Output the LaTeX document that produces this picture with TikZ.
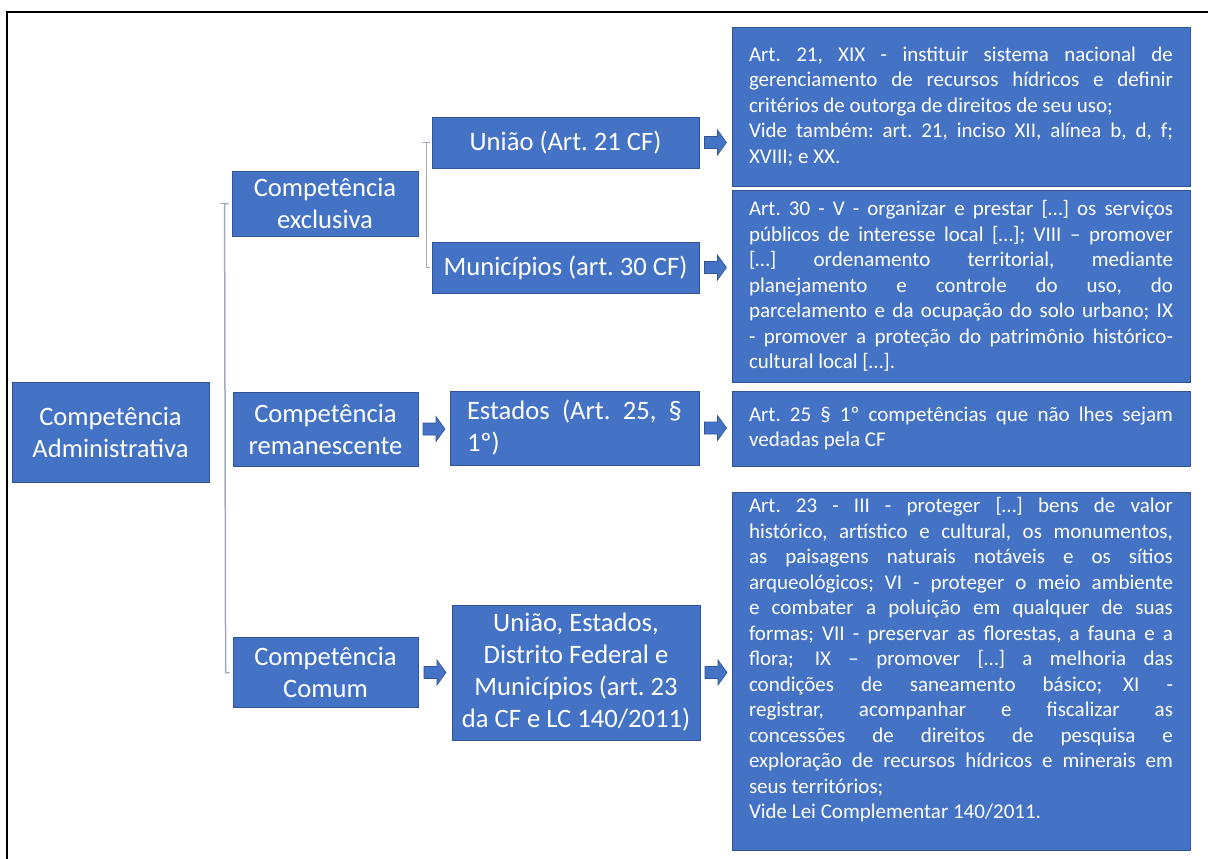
\documentclass[tikz,border=0pt]{standalone}
\usepackage{fontspec}
\setmainfont{Carlito}
\usetikzlibrary{calc}
\frenchspacing

\definecolor{boxblue}{HTML}{4472C4}
\definecolor{boxedge}{HTML}{2F5597}
\definecolor{brackgray}{HTML}{A3AAB8}

% width of the text column inside the right-hand note boxes
\newlength\notew
\setlength\notew{424pt}
% one justified line / one closing (left-aligned) line of a paragraph
\newcommand\jline[1]{\makebox[\linewidth][s]{#1}\par}
\newcommand\eline[1]{\makebox[\linewidth][l]{#1}\par}
\newcommand\notetext[2][\notew]{\begin{minipage}{#1}\setlength\parindent{0pt}#2\end{minipage}}

\tikzset{
  box/.style={draw=boxedge, line width=0.8pt, fill=boxblue, text=white, inner sep=0pt},
  bigbox/.style={box, align=center, font=\fontsize{26.6}{32}\selectfont},
  notebox/.style={box, minimum width=458pt, font=\fontsize{21}{25.5}\selectfont},
  bracket/.style={draw=brackgray, line width=1.5pt},
  blockarr/.style={fill=boxblue, draw=boxedge, line width=0.6pt},
  frameline/.style={draw=black, line width=2pt}
}

% fat right arrow centred in the gap between two boxes, at the height of the first
\newcommand\blockarrow[2]{%
  \path[blockarr] let \p1=(#1.east), \p2=(#2.west), \p3=($(\p1)!0.5!(\x2,\y1)$) in
    (\x3-11pt,\y3-6pt) -- (\x3+2pt,\y3-6pt) -- (\x3+2pt,\y3-12.5pt) --
    (\x3+11pt,\y3) --
    (\x3+2pt,\y3+12.5pt) -- (\x3+2pt,\y3+6pt) -- (\x3-11pt,\y3+6pt) -- cycle;}

\begin{document}
\begin{tikzpicture}[x=1pt, y=-1pt]
\useasboundingbox (0,0) rectangle (1208,859);

% frame
\draw[frameline] (1208,12) -- (7,12) -- (7,859);

% root
\node[bigbox, minimum width=197pt, minimum height=100pt] (adm) at (110.5,432)
  {Competência\\Administrativa};

% kinds of competence
\node[bigbox, minimum width=186pt, minimum height=65pt] (excl) at (325,203.5)
  {Competência\\exclusiva};
\node[bigbox, minimum width=185pt, minimum height=74pt] (rem) at (325.5,429)
  {Competência\\remanescente};
\node[bigbox, minimum width=185pt, minimum height=70pt] (com) at (325.5,672.5)
  {Competência\\Comum};

% holders
\node[bigbox, minimum width=267pt, minimum height=51pt] (uniao) at (565.5,142.5)
  {União (Art. 21 CF)};
\node[bigbox, minimum width=267pt, minimum height=51pt] (mun) at (565.5,267.5)
  {Municípios (art. 30 CF)};
\node[bigbox, minimum width=249pt, minimum height=74pt] (est) at (574.5,428)
  {\notetext[215pt]{\jline{Estados (Art. 25, §}\eline{1º)}}};
\node[bigbox, minimum width=248pt, minimum height=135pt] (todos) at (576,672.5)
  {União, Estados,\\Distrito Federal e\\Municípios (art. 23\\da CF e LC 140/2011)};

% notes
\node[notebox, minimum height=159pt] (n21) at (961,106.5) {\notetext{%
  \jline{Art. 21, XIX - instituir sistema nacional de}
  \jline{gerenciamento de recursos hídricos e definir}
  \eline{critérios de outorga de direitos de seu uso;}
  \jline{Vide também: art. 21, inciso XII, alínea b, d, f;}
  \eline{XVIII; e XX.}}};
\node[notebox, minimum height=192pt] (n30) at (961,286) {\notetext{%
  \jline{Art. 30 - V - organizar e prestar […] os serviços}
  \jline{públicos de interesse local […]; VIII – promover}
  \jline{[…] ordenamento territorial, mediante}
  \jline{planejamento e controle do uso, do}
  \jline{parcelamento e da ocupação do solo urbano; IX}
  \jline{- promover a proteção do patrimônio histórico-}
  \eline{cultural local […].}}};
\node[notebox, minimum height=75pt] (n25) at (961,428.5) {\notetext{%
  \jline{Art. 25 § 1º competências que não lhes sejam}
  \eline{vedadas pela CF}}};
\node[notebox, minimum height=358pt] (n23) at (961,671) {\notetext{%
  \jline{Art. 23 - III - proteger […] bens de valor}
  \jline{histórico, artístico e cultural, os monumentos,}
  \jline{as paisagens naturais notáveis e os sítios}
  \jline{arqueológicos; VI - proteger o meio ambiente}
  \jline{e combater a poluição em qualquer de suas}
  \jline{formas; VII - preservar as florestas, a fauna e a}
  \jline{flora;\quad IX – promover […] a melhoria das}
  \jline{condições de saneamento básico;\quad XI -}
  \jline{registrar, acompanhar e fiscalizar as}
  \jline{concessões de direitos de pesquisa e}
  \jline{exploração de recursos hídricos e minerais em}
  \eline{seus territórios;}
  \eline{Vide Lei Complementar 140/2011.}
  \eline{}}};

% brackets
\draw[bracket] ($(excl.west)+(-3,0)$) -- ($(excl.west)+(-7,0)$)
  -- ($(com.west)+(-7,0)$) -- ($(com.west)+(-3,0)$);
\draw[bracket] ($(excl.west)+(-7,0)$ |- adm.east) -- +(-5,0);
\draw[bracket] ($(uniao.west)+(-2,0)$) -- ($(uniao.west)+(-5,0)$)
  -- ($(mun.west)+(-5,0)$) -- ($(mun.west)+(-2,0)$);
\draw[bracket] ($(uniao.west)+(-5,0)$ |- excl.east) -- +(-5,0);

% arrows
\blockarrow{rem}{est}
\blockarrow{com}{todos}
\blockarrow{uniao}{n21}
\blockarrow{mun}{n30}
\blockarrow{est}{n25}
\blockarrow{todos}{n23}
\end{tikzpicture}
\end{document}
